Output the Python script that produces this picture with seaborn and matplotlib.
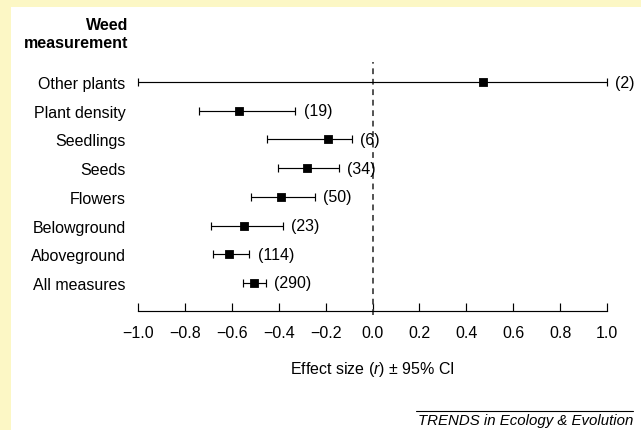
import seaborn as sns
import matplotlib.pyplot as plt
import matplotlib.patches as mpatches
import matplotlib.lines as mlines
import numpy as np
import pandas as pd

measures = ['Other plants', 'Plant density', 'Seedlings', 'Seeds',
            'Flowers', 'Belowground', 'Aboveground', 'All measures']
effect = [0.472, -0.571, -0.191, -0.279, -0.392, -0.550, -0.610, -0.504]
ci_low = [-1.00, -0.739, -0.450, -0.401, -0.517, -0.688, -0.682, -0.554]
ci_high = [1.00, -0.329, -0.087, -0.144, -0.247, -0.382, -0.525, -0.456]
n_studies = [2, 19, 6, 34, 50, 23, 114, 290]
xticks = [-1.0, -0.8, -0.6, -0.4, -0.2, 0.0, 0.2, 0.4, 0.6, 0.8, 1.0]

sns.set_style('white')
plt.rcParams['font.family'] = ['Liberation Sans', 'DejaVu Sans']
plt.rcParams['mathtext.fontset'] = 'custom'
plt.rcParams['mathtext.it'] = 'Liberation Sans:italic'
plt.rcParams['mathtext.rm'] = 'Liberation Sans'
plt.rcParams['text.color'] = 'black'
plt.rcParams['axes.labelcolor'] = 'black'
plt.rcParams['xtick.color'] = 'black'
plt.rcParams['ytick.color'] = 'black'

FS = 11.5

df = pd.DataFrame({'measure': measures, 'effect': effect,
                   'low': ci_low, 'high': ci_high, 'n': n_studies})

fig = plt.figure(figsize=(6.41, 4.31), dpi=100, facecolor='#fcf7c5')
fig.patches.append(mpatches.Rectangle((11 / 641, 0), 1, 1 - 8 / 431,
                                      transform=fig.transFigure,
                                      facecolor='white', edgecolor='none', zorder=-5))
# axes spans x -1..1 (px 138..607) and y from dashed-line top (63) to axis (312)
ax = fig.add_axes([138 / 641, 1 - 312 / 431, 469 / 641, 249 / 431])
ax.set_zorder(2)
ax.set_facecolor('none')

sns.pointplot(data=df, x='effect', y='measure', order=measures,
              linestyle='none', marker='s', markersize=4.3, color='black',
              errorbar=None, ax=ax, zorder=4)

pos = np.arange(len(measures))
xerr = [df['effect'] - df['low'], df['high'] - df['effect']]
ax.errorbar(df['effect'], pos, xerr=xerr, fmt='none', ecolor='black',
            elinewidth=0.85, capsize=2.6, capthick=0.85, clip_on=False, zorder=3)

for y, hi, n in zip(pos, df['high'], df['n']):
    ax.annotate(f'({n})', xy=(hi, y), xytext=(6, 0), textcoords='offset points',
                va='center', ha='left', fontsize=FS, annotation_clip=False)

ax.axvline(0, ymin=-0.015, ymax=1, color='#444444', linestyle=(0, (3.2, 2.6)),
           linewidth=1.3, clip_on=False, zorder=2)

ax.set_xlim(-1, 1)
ax.set_ylim(len(measures) - 0.02, -0.70)
ax.set_xticks(xticks)
ax.set_xticklabels([f'{t:.1f}'.replace('-', '\u2212') for t in xticks], fontsize=FS)
ax.tick_params(axis='x', bottom=True, direction='in', length=6, width=0.85,
               color='black', pad=10)
ax.tick_params(axis='y', left=False, length=0, pad=9, labelsize=FS)
for s in ['top', 'right', 'left']:
    ax.spines[s].set_visible(False)
ax.spines['bottom'].set_color('black')
ax.spines['bottom'].set_linewidth(0.85)
ax.set_ylabel('')
ax.set_xlabel(r'Effect size ($\mathit{r}$) $\pm$ 95% CI', fontsize=FS, labelpad=14)

fig.text(128 / 641, 1 - 25 / 431, 'Weed', ha='right', va='center',
         fontsize=FS, fontweight='bold')
fig.text(128 / 641, 1 - 43 / 431, 'measurement', ha='right', va='center',
         fontsize=FS, fontweight='bold')

fig.text(633 / 641, 1 - 421 / 431, 'TRENDS in Ecology & Evolution', ha='right',
         va='center', fontsize=10.8, style='italic')
fig.lines.append(mlines.Line2D([416 / 641, 633 / 641], [1 - 412 / 431, 1 - 412 / 431],
                               transform=fig.transFigure, color='black', linewidth=0.8))

fig.savefig('out.png', dpi=100, facecolor=fig.get_facecolor())
